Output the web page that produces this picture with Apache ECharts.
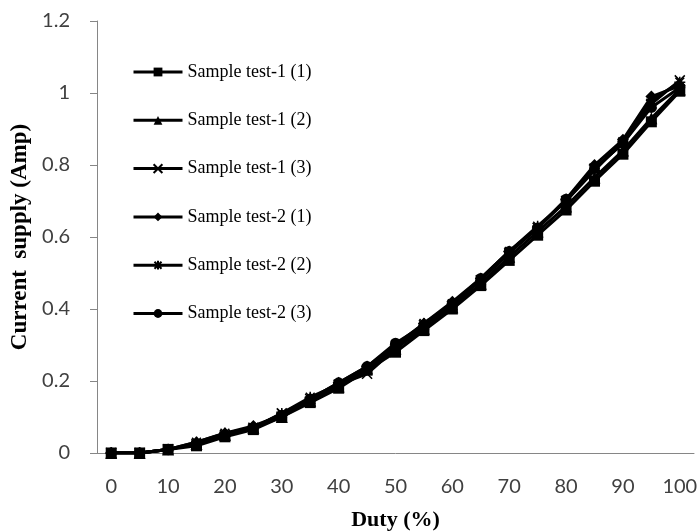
<!DOCTYPE html>
<html>
<head>
<meta charset="utf-8">
<script src="https://cdn.jsdelivr.net/npm/echarts@6/dist/echarts.min.js"></script>
<style>
    html, body { margin: 0; padding: 0; background: #fff; }
    #chart { width: 699px; height: 532px; }
</style>
</head>
<body>
<div id="chart"></div>
<script>
// duty categories (%)
var duty = ['0','5','10','15','20','25','30','35','40','45','50','55','60','65','70','75','80','85','90','95','100'];

// current supply (Amp)
var test1_1 = [0, 0, 0.01, 0.02, 0.045, 0.065, 0.1, 0.14, 0.18, 0.23, 0.28, 0.34, 0.4, 0.465, 0.535, 0.605, 0.675, 0.755, 0.83, 0.92, 1.005];
var test1_2 = [0, 0, 0.01, 0.025, 0.05, 0.07, 0.1, 0.145, 0.185, 0.235, 0.29, 0.345, 0.405, 0.47, 0.545, 0.615, 0.685, 0.765, 0.84, 0.93, 1.01];
var test1_3 = [0, 0, 0.01, 0.025, 0.05, 0.07, 0.11, 0.15, 0.19, 0.22, 0.29, 0.355, 0.41, 0.48, 0.555, 0.625, 0.7, 0.79, 0.86, 0.97, 1.035];
var test2_1 = [0, 0, 0.01, 0.03, 0.055, 0.075, 0.105, 0.15, 0.195, 0.24, 0.3, 0.36, 0.42, 0.485, 0.56, 0.625, 0.705, 0.8, 0.87, 0.99, 1.02];
var test2_2 = [0, 0, 0.01, 0.03, 0.055, 0.07, 0.11, 0.155, 0.19, 0.235, 0.295, 0.36, 0.415, 0.48, 0.56, 0.63, 0.7, 0.785, 0.865, 0.98, 1.03];
var test2_3 = [0, 0, 0.01, 0.025, 0.05, 0.07, 0.105, 0.15, 0.195, 0.24, 0.305, 0.355, 0.415, 0.485, 0.56, 0.625, 0.705, 0.79, 0.86, 0.96, 1.015];

var names = ['Sample test-1 (1)', 'Sample test-1 (2)', 'Sample test-1 (3)',
             'Sample test-2 (1)', 'Sample test-2 (2)', 'Sample test-2 (3)'];

var xMark = 'path://M0,0L10,10M10,0L0,10';
var starMark = 'path://M5,0L5,10M1,1L9,9M9,1L1,9M0,5L10,5';

function makeSeries(name, data, symbol, size, stroke) {
    return {
        name: name,
        type: 'line',
        data: data,
        symbol: symbol,
        symbolSize: size,
        showSymbol: true,
        lineStyle: { color: '#000', width: 3 },
        itemStyle: {
            color: '#000',
            borderColor: '#000',
            borderWidth: stroke ? 1.5 : 0
        }
    };
}

var chart = echarts.init(document.getElementById('chart'));
var option = {
    animation: false,
    backgroundColor: '#fff',
    grid: { left: 97, right: 5, top: 21, bottom: 79, outerBoundsMode: 'none' },
    legend: {
        orient: 'vertical',
        left: 127,
        top: 58,
        itemWidth: 49,
        itemHeight: 11,
        itemGap: 30.3,
        lineStyle: { width: 3 },
        textStyle: { fontFamily: 'Liberation Serif', fontSize: 18, color: '#000' },
        data: names
    },
    xAxis: {
        type: 'category',
        data: duty,
        boundaryGap: true,
        name: 'Duty (%)',
        nameLocation: 'middle',
        nameGap: 56,
        nameTextStyle: { fontFamily: 'Liberation Serif', fontWeight: 'bold', fontSize: 22, color: '#000' },
        axisLine: { lineStyle: { color: '#868686', width: 1 } },
        axisTick: { show: false },
        axisLabel: { interval: 1, margin: 24, fontFamily: 'Lato', fontSize: 20, color: '#404040' }
    },
    yAxis: {
        type: 'value',
        min: 0,
        max: 1.2,
        interval: 0.2,
        name: 'Current  supply (Amp)',
        nameLocation: 'middle',
        nameGap: 62,
        nameTextStyle: { fontFamily: 'Liberation Serif', fontWeight: 'bold', fontSize: 23, color: '#000' },
        axisLine: { show: true, lineStyle: { color: '#868686', width: 1 } },
        axisTick: { show: true, length: 7, lineStyle: { color: '#868686' } },
        splitLine: { show: false },
        axisLabel: {
            margin: 27,
            fontFamily: 'Lato',
            fontSize: 20,
            color: '#404040',
            formatter: function (v) { return String(Math.round(v * 10) / 10); }
        }
    },
    series: [
        makeSeries(names[0], test1_1, 'rect', 11, false),
        makeSeries(names[1], test1_2, 'triangle', 12, false),
        makeSeries(names[2], test1_3, xMark, 10, true),
        makeSeries(names[3], test2_1, 'diamond', 12, false),
        makeSeries(names[4], test2_2, starMark, 11, true),
        makeSeries(names[5], test2_3, 'circle', 11, false)
    ]
};
chart.setOption(option);
</script>
</body>
</html>
